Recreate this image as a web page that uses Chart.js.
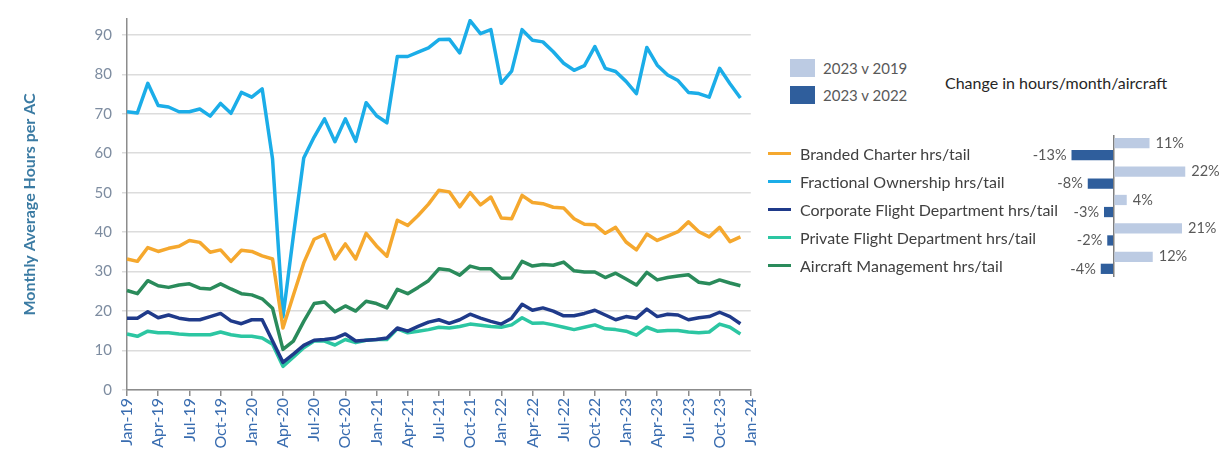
<!DOCTYPE html>
<html>
<head>
<meta charset="utf-8">
<script src="https://cdn.jsdelivr.net/npm/chart.js@4.4.1/dist/chart.umd.min.js"></script>
<style>
  body { margin: 0; background: #fff; font-family: Lato, "Open Sans", sans-serif; }
  #wrap { position: relative; width: 1232px; height: 450px; overflow: hidden; }
  #main { position: absolute; left: 0; top: 0; }
  #bars { position: absolute; left: 1000px; top: 120px; }
  .row { position: absolute; display: flex; align-items: center; color: #404040; font-size: 16px; white-space: nowrap; }
  .line-key { width: 23px; height: 3px; margin-right: 9px; }
  .box-key { width: 25px; height: 18px; margin-right: 8px; }
  #barTitle { position: absolute; left: 945px; top: 73px; font-size: 16px; color: #262626; white-space: nowrap; }
</style>
</head>
<body>
<div id="wrap">
  <canvas id="main" width="772" height="450"></canvas>
  <canvas id="bars" width="232" height="170"></canvas>
  <div id="barTitle">Change in hours/month/aircraft</div>
  <div id="barLegend"></div>
  <div id="lineLegend"></div>
</div>
<script>
const months = [
  "Jan-19","Feb-19","Mar-19","Apr-19","May-19","Jun-19","Jul-19","Aug-19","Sep-19","Oct-19","Nov-19","Dec-19",
  "Jan-20","Feb-20","Mar-20","Apr-20","May-20","Jun-20","Jul-20","Aug-20","Sep-20","Oct-20","Nov-20","Dec-20",
  "Jan-21","Feb-21","Mar-21","Apr-21","May-21","Jun-21","Jul-21","Aug-21","Sep-21","Oct-21","Nov-21","Dec-21",
  "Jan-22","Feb-22","Mar-22","Apr-22","May-22","Jun-22","Jul-22","Aug-22","Sep-22","Oct-22","Nov-22","Dec-22",
  "Jan-23","Feb-23","Mar-23","Apr-23","May-23","Jun-23","Jul-23","Aug-23","Sep-23","Oct-23","Nov-23","Dec-23",
  "Jan-24"
]
const yTicks = [0, 10, 20, 30, 40, 50, 60, 70, 80, 90]

const brandedCharter = [33.2,32.6,36.1,35.1,35.9,36.4,37.9,37.4,34.9,35.5, 32.6,35.4,35.1,34.0,33.2,15.7,24.0,32.2,38.2,39.4,
  33.2,37.0,33.2,39.7,36.5,33.9,43.0,41.7,44.2,47.1, 50.6,50.2,46.4,50.0,46.9,48.9,43.6,43.4,49.3,47.5,
  47.2,46.3,46.1,43.4,42.0,41.9,39.7,41.2,37.5,35.5, 39.5,37.9,39.0,40.1,42.6,40.1,38.8,41.2,37.6,38.8]
const fractional = [70.5,70.2,77.7,72.1,71.7,70.5,70.5,71.2,69.4,72.6, 70.1,75.4,74.2,76.3,58.5,18.5,39.0,58.8,64.1,68.7,
  62.9,68.7,63.0,72.8,69.5,67.7,84.5,84.5,85.6,86.7, 88.8,88.9,85.4,93.6,90.3,91.3,77.7,80.8,91.3,88.6,
  88.2,85.7,82.8,81.0,82.2,87.0,81.5,80.7,78.2,75.1, 86.8,82.3,79.8,78.4,75.4,75.1,74.2,81.5,77.6,74.0]
const corporate = [18.2,18.2,19.8,18.3,19.0,18.2,17.8,17.8,18.6,19.4, 17.5,16.8,17.8,17.8,12.4,7.0,9.1,11.3,12.6,12.8,
  13.1,14.2,12.4,12.6,12.8,13.2,15.7,14.9,16.1,17.2, 17.8,16.9,17.8,19.2,18.2,17.4,16.7,18.2,21.7,20.2,
  20.8,20.0,18.8,18.8,19.4,20.2,19.0,17.8,18.6,18.2, 20.5,18.6,19.2,19.0,17.8,18.3,18.6,19.7,18.6,16.8]
const privateFlight = [14.2,13.6,14.9,14.5,14.5,14.2,14.0,14.0,14.0,14.7, 14.0,13.6,13.6,13.2,11.6,6.0,8.3,10.7,12.4,12.4,
  11.4,12.8,12.0,12.6,12.8,12.8,15.5,14.5,14.9,15.3, 15.9,15.7,16.1,16.7,16.4,16.1,15.9,16.5,18.3,16.9,
  17.0,16.5,15.9,15.3,15.9,16.5,15.5,15.3,14.9,13.9, 15.9,14.9,15.1,15.1,14.7,14.5,14.7,16.7,15.9,14.2]
const management = [25.2,24.4,27.7,26.4,26.0,26.6,26.9,25.8,25.6,26.9, 25.6,24.4,24.1,23.1,20.7,10.3,12.4,17.4,21.9,22.3,
  19.8,21.3,20.0,22.5,21.9,20.8,25.5,24.4,26.0,27.7, 30.7,30.4,29.1,31.4,30.7,30.7,28.3,28.4,32.6,31.4,
  31.8,31.6,32.4,30.2,29.9,29.9,28.5,29.6,28.1,26.6, 29.8,27.9,28.5,28.9,29.2,27.3,26.9,27.9,27.1,26.4]

const seriesNames = [
  "Branded Charter hrs/tail",
  "Fractional Ownership hrs/tail",
  "Corporate Flight Department hrs/tail",
  "Private Flight Department hrs/tail",
  "Aircraft Management hrs/tail"
]
const seriesColors = ["#F5A82E", "#1BADE8", "#1F3A8A", "#2CC6A2", "#2A8B5B"]
const seriesData = [brandedCharter, fractional, corporate, privateFlight, management]

// change in hours/month/aircraft (%)
const changeNames = ["2023 v 2019", "2023 v 2022"]
const changeColors = ["#BCCBE3", "#2F5E9C"]
const change2019 = [11, 22, 4, 21, 12]
const change2022 = [-13, -8, -3, -2, -4]

const FONT = "Lato, 'Open Sans', sans-serif"

new Chart(document.getElementById("main"), {
  type: "line",
  data: {
    labels: months,
    datasets: seriesData.map((d, i) => ({
      label: seriesNames[i],
      data: d,
      borderColor: seriesColors[i],
      backgroundColor: seriesColors[i],
      borderWidth: 3.5,
      pointRadius: 0,
      tension: 0,
      borderJoinStyle: "round"
    }))
  },
  options: {
    responsive: false,
    animation: false,
    layout: { padding: { top: 11, right: 0, bottom: 0, left: 0 } },
    plugins: { legend: { display: false }, tooltip: { enabled: false } },
    scales: {
      x: {
        offset: false,
        afterFit: (s) => { s.height = 60 },
        border: { color: "#8c8c8c", width: 1.5 },
        grid: {
          drawOnChartArea: false,
          tickLength: 6,
          lineWidth: 1.5,
          color: (ctx) => ctx.index % 3 === 0 ? "#8c8c8c" : "transparent"
        },
        ticks: {
          autoSkip: false,
          maxRotation: 90,
          minRotation: 90,
          padding: 2,
          color: "#3A6DB0",
          font: { family: FONT, size: 16 },
          callback: (v, i) => i % 3 === 0 ? months[i] : ""
        }
      },
      y: {
        min: 0,
        max: 94,
        afterFit: (s) => { s.width = 127 },
        afterBuildTicks: (s) => { s.ticks = yTicks.map(v => ({ value: v })) },
        border: { color: "#8c8c8c", width: 1.5 },
        grid: { color: "#dcdcdc", lineWidth: 1.5, tickLength: 5 },
        ticks: {
          padding: 10,
          color: "#7d8ca0",
          font: { family: FONT, size: 15 }
        },
        title: {
          display: true,
          text: "Monthly Average Hours per AC",
          color: "#3B7BA3",
          font: { family: FONT, size: 16, weight: "bold" },
          padding: { top: 20, bottom: 0 }
        }
      }
    }
  }
})

const barLabels = {
  id: "barLabels",
  afterDatasetsDraw(chart) {
    const { ctx } = chart
    ctx.save()
    ctx.font = "14.5px " + FONT
    ctx.fillStyle = "#595959"
    ctx.textBaseline = "middle"
    chart.data.datasets.forEach((ds, di) => {
      chart.getDatasetMeta(di).data.forEach((bar, i) => {
        const v = ds.data[i]
        if (v >= 0) {
          ctx.textAlign = "left"
          ctx.fillText(v + "%", bar.x + 6, bar.y)
        } else {
          ctx.textAlign = "right"
          ctx.fillText(v + "%", bar.x - 5, bar.y)
        }
      })
    })
    ctx.restore()
  }
}

new Chart(document.getElementById("bars"), {
  type: "bar",
  data: {
    labels: seriesNames,
    datasets: [
      { label: changeNames[0], data: change2019, backgroundColor: changeColors[0] },
      { label: changeNames[1], data: change2022, backgroundColor: changeColors[1] }
    ]
  },
  options: {
    indexAxis: "y",
    responsive: false,
    animation: false,
    layout: { padding: { top: 15, bottom: 13, left: 65, right: 37 } },
    datasets: { bar: { categoryPercentage: 0.85, barPercentage: 0.85 } },
    plugins: { legend: { display: false }, tooltip: { enabled: false } },
    scales: {
      x: {
        min: -15,
        max: 25,
        afterFit: (s) => { s.height = 0 },
        border: { display: false },
        ticks: { display: false, stepSize: 5 },
        grid: {
          drawTicks: false,
          lineWidth: 1.5,
          color: (ctx) => ctx.tick && ctx.tick.value === 0 ? "#7f7f7f" : "transparent"
        }
      },
      y: { display: false }
    }
  },
  plugins: [barLabels]
})

// legends
const lineLegend = document.getElementById("lineLegend")
seriesNames.forEach((name, i) => {
  const row = document.createElement("div")
  row.className = "row"
  row.style.left = "768px"
  row.style.top = (143 + i * 28.2) + "px"
  row.style.height = "20px"
  row.innerHTML = `<span class="line-key" style="background:${seriesColors[i]}"></span><span>${name}</span>`
  lineLegend.appendChild(row)
})

const barLegend = document.getElementById("barLegend")
changeNames.forEach((name, i) => {
  const row = document.createElement("div")
  row.className = "row"
  row.style.left = "790px"
  row.style.top = (59 + i * 27) + "px"
  row.style.fontSize = "15px"
  row.style.color = "#595959"
  row.innerHTML = `<span class="box-key" style="background:${changeColors[i]}"></span><span>${name}</span>`
  barLegend.appendChild(row)
})
</script>
</body>
</html>
